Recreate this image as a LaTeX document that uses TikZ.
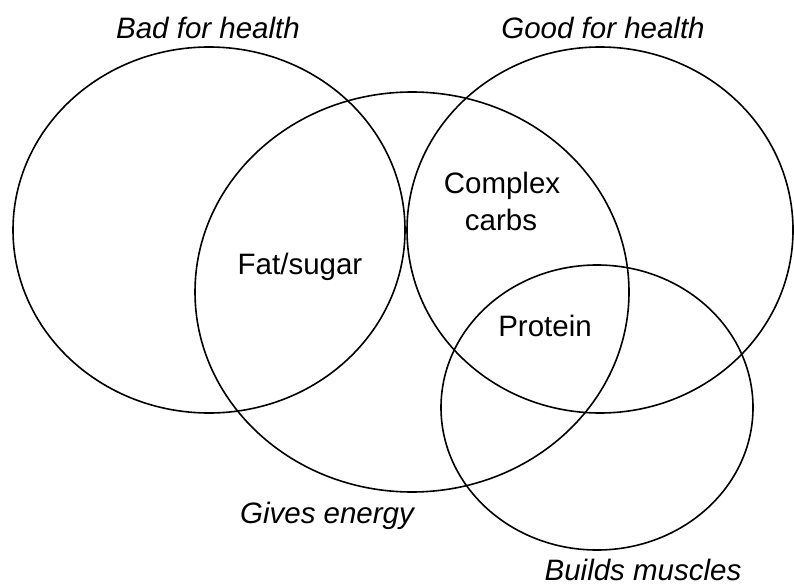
\documentclass[tikz,border=0pt]{standalone}
\usepackage{fontspec}
\setmainfont{Liberation Sans}
\begin{document}
\begin{tikzpicture}[x=1pt,y=-1pt,
  setline/.style={line width=1.6pt,black},
  lbl/.style={font=\fontsize{29.5}{36}\selectfont\itshape,inner sep=0pt,anchor=base},
  itm/.style={font=\fontsize{29.5}{36}\selectfont,inner sep=0pt,align=center}]
\useasboundingbox (0,0) rectangle (794,585);
% sets
\draw[setline] (209,230) ellipse [x radius=196, y radius=183];
\draw[setline] (412,292) ellipse [x radius=217, y radius=200];
\draw[setline] (600,230) ellipse [x radius=193, y radius=183];
\draw[setline] (597,407.5) ellipse [x radius=156, y radius=142.5];
% set labels
\node[lbl] (bad) at (208,39) {Bad for health};
\node[lbl] (good) at (603,39) {Good for health};
\node[lbl] (energy) at (327,523) {Gives energy};
\node[lbl] (muscle) at (643,580) {Builds muscles};
% items
\node[itm,anchor=base] (fat) at (300,274) {Fat/sugar};
\node[itm,anchor=base] (cc1) at (502,194) {Complex};
\node[itm,anchor=base] (cc2) at (501,230) {carbs};
\node[itm,anchor=base] (prot) at (545,336) {Protein};
\end{tikzpicture}
\end{document}
